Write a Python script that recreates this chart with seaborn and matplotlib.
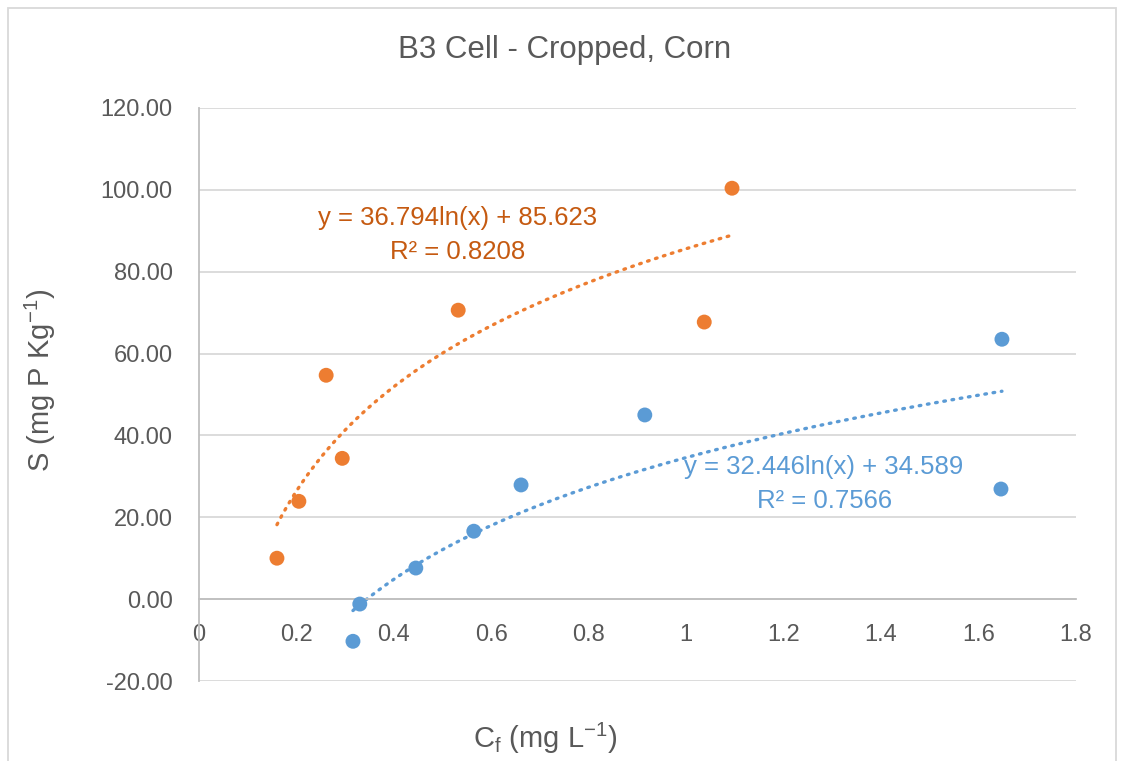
import numpy as np
import pandas as pd
import matplotlib
matplotlib.use("Agg")
import matplotlib.pyplot as plt
import seaborn as sns
from matplotlib.patches import Rectangle

# Data
cf_orange = [0.160, 0.205, 0.261, 0.294, 0.532, 1.037, 1.094]
s_orange = [10.0, 23.9, 54.7, 34.4, 70.6, 67.7, 100.4]
cf_blue = [0.316, 0.330, 0.445, 0.564, 0.661, 0.915, 1.648, 1.646]
s_blue = [-10.3, -1.2, 7.6, 16.6, 27.9, 45.0, 63.5, 26.9]

# log trendline coefficients as printed on the chart
fit_orange = (36.794, 85.623, 0.8208)
fit_blue = (32.446, 34.589, 0.7566)

x_ticks = [0, 0.2, 0.4, 0.6, 0.8, 1, 1.2, 1.4, 1.6, 1.8]
x_tick_labels = ["0", "0.2", "0.4", "0.6", "0.8", "1", "1.2", "1.4", "1.6", "1.8"]
y_ticks = [-20, 0, 20, 40, 60, 80, 100, 120]

ORANGE = "#ED7D31"
BLUE = "#5B9BD5"
GREY_TXT = "#595959"

df = pd.DataFrame({
    "Cf": cf_orange + cf_blue,
    "S": s_orange + s_blue,
    "series": ["orange"] * len(cf_orange) + ["blue"] * len(cf_blue),
})

sns.set_theme(style="white")
plt.rcParams["font.family"] = ["Liberation Sans", "DejaVu Sans"]

fig = plt.figure(figsize=(11.25, 7.61), dpi=100)
ax = fig.add_axes([199 / 1125, 1 - 681 / 761, (1076 - 199) / 1125, (681 - 108) / 761])

# trendlines
for xs, (a, b, _), col in [(cf_orange, fit_orange, ORANGE), (cf_blue, fit_blue, BLUE)]:
    xx = np.linspace(min(xs), max(xs), 200)
    ax.plot(xx, a * np.log(xx) + b, color=col, linestyle=(0, (0.5, 2.0)),
            linewidth=2.4, dash_capstyle="round", zorder=2)

sns.scatterplot(data=df, x="Cf", y="S", hue="series",
                palette={"orange": ORANGE, "blue": BLUE},
                s=115, edgecolor="none", legend=False, ax=ax, zorder=3)

ax.set_xlim(0, 1.8)
ax.set_ylim(-20, 120)
ax.set_xticks(x_ticks)
ax.set_xticklabels(x_tick_labels)
ax.set_yticks(y_ticks)
ax.set_yticklabels([f"{v:.2f}" for v in y_ticks])
ax.tick_params(axis="both", length=0, labelsize=17, colors=GREY_TXT)
ax.tick_params(axis="y", pad=19)
ax.tick_params(axis="x", pad=18)
ax.yaxis.grid(True, color="#D9D9D9", linewidth=1.3)
ax.set_axisbelow(True)
ax.set_xlabel("")
ax.set_ylabel("")

for side in ["top", "right"]:
    ax.spines[side].set_visible(False)
ax.spines["left"].set_color("#BFBFBF")
ax.spines["left"].set_linewidth(1.3)
ax.spines["bottom"].set_position(("data", 0))
ax.spines["bottom"].set_color("#BFBFBF")
ax.spines["bottom"].set_linewidth(1.3)

# equation labels
ax.text(0.53, 93.1, f"y = {fit_orange[0]}ln(x) + {fit_orange[1]}", color="#C55A11",
        fontsize=18.5, ha="center", va="center")
ax.text(0.53, 84.8, f"R² = {fit_orange[2]}", color="#C55A11",
        fontsize=18.5, ha="center", va="center")
ax.text(1.283, 32.3, f"y = {fit_blue[0]}ln(x) + {fit_blue[1]}", color=BLUE,
        fontsize=18.5, ha="center", va="center")
ax.text(1.283, 23.9, f"R² = {fit_blue[2]}", color=BLUE,
        fontsize=18.5, ha="center", va="center")

fig.text(565 / 1125, 1 - 50 / 761, "B3 Cell - Cropped, Corn", color=GREY_TXT,
         fontsize=22.5, ha="center", va="center")
fig.text(545 / 1125, 1 - 738 / 761, r"C$_\mathregular{f}$ (mg L$^\mathregular{-1}$)",
         color=GREY_TXT, fontsize=21, ha="center", va="center")
fig.text(40 / 1125, 1 - 380 / 761, r"S (mg P Kg$^\mathregular{-1}$)",
         color=GREY_TXT, fontsize=21, ha="center", va="center", rotation=90)

fig.patches.append(Rectangle((8 / 1125, -0.01), (1116 - 8) / 1125, 1.0 - 8 / 761 + 0.01,
                             transform=fig.transFigure, fill=False,
                             edgecolor="#D9D9D9", linewidth=1.3))

fig.savefig("out.png", dpi=100)
